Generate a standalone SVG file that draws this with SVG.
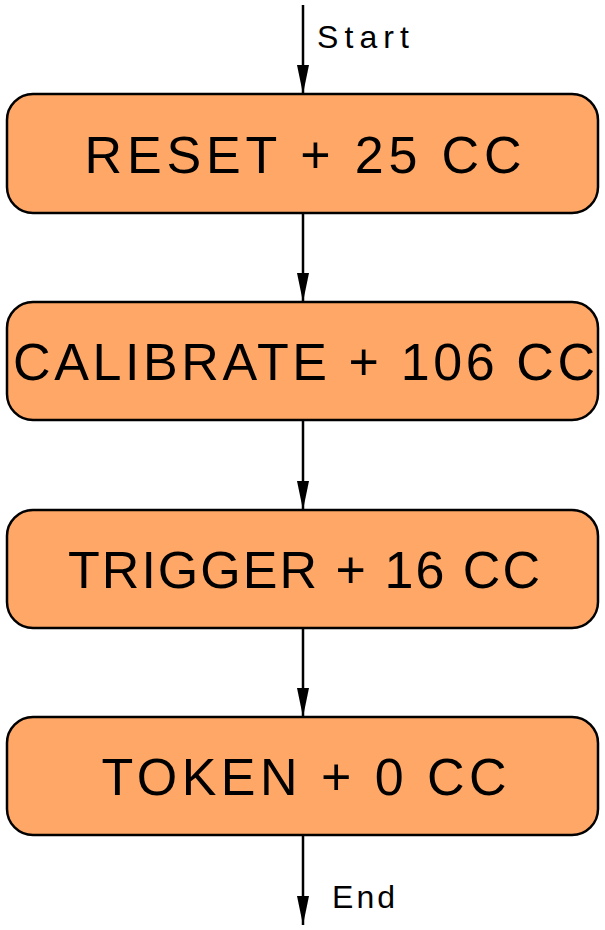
<svg xmlns="http://www.w3.org/2000/svg" width="605" height="930" viewBox="0 0 605 930">
<style>
.box{fill:#FFA766;stroke:#000;stroke-width:2.5}
.lbl{font-family:"Liberation Sans",Arial,sans-serif;font-size:52px;fill:#000;text-anchor:middle}
.sm{font-family:"Liberation Sans",Arial,sans-serif;font-size:32px;fill:#000}
.edge{stroke:#000;stroke-width:2.5;fill:none}
.head{fill:#000}
</style>
<g id="connectors">
<path class="edge" d="M303,5 V94"/>
<path class="head" d="M297,65 L309,65 L303,94 Z"/>
<path class="edge" d="M303,213 V302"/>
<path class="head" d="M297,273 L309,273 L303,302 Z"/>
<path class="edge" d="M303,420 V510"/>
<path class="head" d="M297,481 L309,481 L303,510 Z"/>
<path class="edge" d="M303,628 V717"/>
<path class="head" d="M297,688 L309,688 L303,717 Z"/>
<path class="edge" d="M303,835 V925"/>
<path class="head" d="M297,896 L309,896 L303,925 Z"/>
<text class="sm" x="317" y="48" textLength="92" lengthAdjust="spacing">Start</text>
<text class="sm" x="332" y="908" textLength="63" lengthAdjust="spacing">End</text>
</g>
<g id="reset">
<rect class="box" x="7" y="94" width="591" height="119" rx="26"/>
<text class="lbl" x="303" y="173" textLength="437" lengthAdjust="spacing">RESET + 25 CC</text>
</g>
<g id="calibrate">
<rect class="box" x="7" y="302" width="591" height="118" rx="26"/>
<text class="lbl" x="304" y="380" textLength="582" lengthAdjust="spacing">CALIBRATE + 106 CC</text>
</g>
<g id="trigger">
<rect class="box" x="7" y="510" width="591" height="118" rx="26"/>
<text class="lbl" x="304" y="588" textLength="472" lengthAdjust="spacing">TRIGGER + 16 CC</text>
</g>
<g id="token">
<rect class="box" x="7" y="717" width="591" height="118" rx="26"/>
<text class="lbl" x="304" y="795" textLength="405" lengthAdjust="spacing">TOKEN + 0 CC</text>
</g>
</svg>
